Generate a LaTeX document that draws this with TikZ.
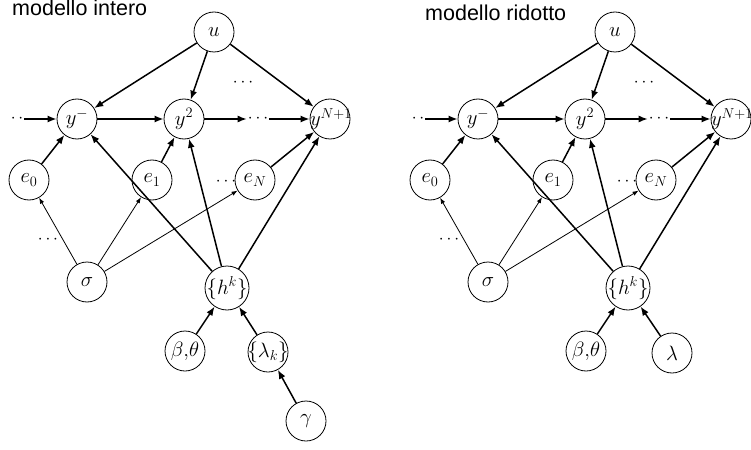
\documentclass[tikz,border=0pt]{standalone}
\usepackage{fontspec}
\setsansfont{Liberation Sans}
\usetikzlibrary{arrows.meta}

% common part of both models
\newcommand{\modelcore}{%
  \node[var] (u)   at (214,32)  {$u$};
  \node[var] (ym)  at (77,119)  {$y^-$};
  \node[var] (y2)  at (184,119) {$y^2$};
  \node[var] (yN)  at (330,119) {\makebox[0pt]{\hspace{2pt}$y^{N+1}$}};
  \node[var] (e0)  at (29,180)  {$e_0$};
  \node[var] (e1)  at (152,180) {$e_1$};
  \node[var] (eN)  at (255,180) {$e_N$};
  \node[var] (sig) at (87,282)  {$\sigma$};
  \node[var, minimum size=44pt] (hk) at (227,288) {\makebox[0pt]{$\Bigl\{h^k\Bigr\}$}};
  \node[var] (bt)  at (185,351) {\makebox[0pt]{$\beta{,}\theta$}};
  \node[dots] (ldots) at (17,119)  {$\cdot\,\cdot$};
  \node[dots] (mdots) at (258,119) {$\cdots$};
  \node[dots] (tdots) at (243,83)  {$\cdots$};
  \node[dots] (edots) at (226,182) {$\cdots$};
  \node[dots] (sdots) at (48,240)  {$\cdots$};
  \draw[dep] (u) -- (ym);
  \draw[dep] (u) -- (y2);
  \draw[dep] (u) -- (yN);
  \draw[dep] (ldots) -- (ym);
  \draw[dep] (ym) -- (y2);
  \draw[dep] (y2) -- (mdots);
  \draw[dep] (mdots) -- (yN);
  \draw[dep] (e0) -- (ym);
  \draw[dep] (e1) -- (y2);
  \draw[dep] (eN) -- (yN);
  \draw[weak] (sig) -- (e0);
  \draw[weak] (sig) -- (e1);
  \draw[weak] (sig) -- (eN);
  \draw[dep] (hk) -- (ym);
  \draw[dep] (hk) -- (y2);
  \draw[dep] (hk) -- (yN);
  \draw[dep] (bt) -- (hk);
}

\begin{document}
\begin{tikzpicture}[%
    x=1pt, y=-1pt,
    var/.style = {%
      circle,
      draw = black,
      line width = 0.8pt,
      minimum size = 40pt,
      inner sep = 0pt,
      font = \fontsize{20}{24}\selectfont,
    },
    dots/.style = {inner sep=1pt, font=\fontsize{18}{22}\selectfont},
    title/.style = {anchor=base west, inner sep=0pt, font=\sffamily\fontsize{21.5}{24}\selectfont},
    dep/.style = {-{Latex[length=9pt,width=7pt]}, line width=1.5pt},
    weak/.style = {-{Latex[length=6pt,width=4.5pt]}, line width=0.8pt},
  ]
  \useasboundingbox (0,0) rectangle (751,449);

  % modello intero
  \begin{scope}[name prefix=l-]
    \modelcore
    \node[var] (lamk) at (268,352) {\makebox[0pt]{$\Bigl\{\lambda_k\Bigr\}$}};
    \node[var] (gam)  at (306,421) {$\gamma$};
    \draw[dep] (lamk) -- (hk);
    \draw[dep] (gam) -- (lamk);
  \end{scope}
  \node[title] (tint) at (12,16) {modello intero};

  % modello ridotto
  \begin{scope}[shift={(401,0)}, name prefix=r-]
    \modelcore
    \node[var] (lam) at (271,353) {$\lambda$};
    \draw[dep] (lam) -- (hk);
  \end{scope}
  \node[title] (trid) at (425,21) {modello ridotto};
\end{tikzpicture}
\end{document}
